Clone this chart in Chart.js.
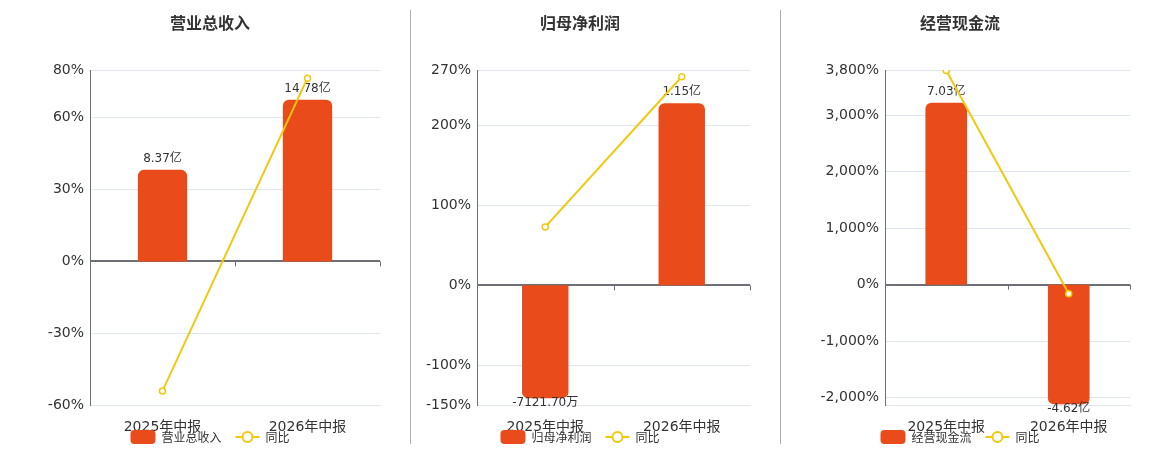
<!DOCTYPE html>
<html>
<head>
<meta charset="utf-8">
<script src="https://cdn.jsdelivr.net/npm/chart.js@4.4.1/dist/chart.umd.min.js"></script>
<style>
body { margin: 0; background: #fff; width: 1160px; height: 450px; overflow: hidden; position: relative;
  font-family: "DejaVu Sans", "Noto Sans CJK SC", sans-serif; }
canvas { position: absolute; top: 0; }
.title { position: absolute; top: 12px; font-size: 16px; line-height: 20px; font-weight: bold; color: #333;
  transform: translateX(-50%); white-space: nowrap; font-family: "Noto Sans CJK SC", sans-serif; }
.sep { position: absolute; top: 10px; height: 434px; width: 1px; background: #b0b0b0; }
.legend { position: absolute; top: 428px; transform: translateX(-50%); display: flex; align-items: center;
  font-size: 12px; color: #333; white-space: nowrap; font-family: "Noto Sans CJK SC", sans-serif; }
.legend .box { width: 25px; height: 14px; border-radius: 4px; background: #E94B1B; margin-right: 6px; }
.legend .ln { position: relative; width: 24px; height: 14px; margin: 0 6px 0 14px; }
.legend .ln:before { content: ""; position: absolute; left: 0; right: 0; top: 6px; height: 2px; background: #F2C80F; }
.legend .ln:after { content: ""; position: absolute; left: 6px; top: 1px; width: 8px; height: 8px; border: 2px solid #F2C80F;
  border-radius: 50%; background: #fff; }
</style>
</head>
<body>
<div class="sep" style="left:410px"></div>
<div class="sep" style="left:780px"></div>
<script>
// data
categories = ['2025年中报', '2026年中报']
titles = ['营业总收入', '归母净利润', '经营现金流']

revenue = [8.37, 14.78]            // 亿
revenueText = ['8.37亿', '14.78亿']
revenueYoy = [-54.1, 76.6]         // %
revenueTicks = [-60, -30, 0, 30, 60, 80]

profit = [-0.712170, 1.15]         // 亿
profitText = ['-7121.70万', '1.15亿']
profitYoy = [73.3, 261.5]
profitTicks = [-150, -100, 0, 100, 200, 270]

cash = [7.03, -4.62]               // 亿
cashText = ['7.03亿', '-4.62亿']
cashYoy = [3790, -160]
cashTicks = [-2000, -1000, 0, 1000, 2000, 3000, 3800]

pctMin = [-60, -150, -2130]
pctMax = [80, 270, 3800]
barMax = [17.5, 1.36, 8.3]

Chart.defaults.font.family = '"DejaVu Sans", "Noto Sans CJK SC", sans-serif'
Chart.defaults.color = '#333'

const barColor = '#E94B1B'
const lineColor = '#F2C80F'

// text over each bar, under the line
const barLabels = {
  id: 'barLabels',
  afterDatasetDraw(chart, args, opts) {
    if (args.index !== 1) return
    const ctx = chart.ctx
    ctx.save()
    ctx.font = '12px "DejaVu Sans", "Noto Sans CJK SC", sans-serif'
    ctx.fillStyle = '#333'
    ctx.textAlign = 'center'
    args.meta.data.forEach((bar, i) => {
      const v = chart.data.datasets[1].data[i]
      if (v >= 0) {
        ctx.textBaseline = 'bottom'
        ctx.fillText(opts.texts[i], bar.x, bar.y - 5)
      } else {
        ctx.textBaseline = 'top'
        ctx.fillText(opts.texts[i], bar.x, bar.y - 1)
      }
    })
    ctx.restore()
  }
}

// small ticks hanging from the zero line
const zeroTicks = {
  id: 'zeroTicks',
  beforeDatasetsDraw(chart) {
    const y = chart.scales.y.getPixelForValue(0)
    const a = chart.chartArea
    const ctx = chart.ctx
    ctx.save()
    ctx.strokeStyle = '#6E7079'
    ctx.lineWidth = 1
    ;[a.left, (a.left + a.right) / 2, a.right].forEach(x => {
      ctx.beginPath()
      ctx.moveTo(Math.round(x) + 0.5, y)
      ctx.lineTo(Math.round(x) + 0.5, y + 5)
      ctx.stroke()
    })
    ctx.restore()
  }
}

function panel(n, left, width, yWidth, center, bars, texts, yoy, ticks) {
  const c = document.createElement('canvas')
  c.width = width
  c.height = 450
  c.style.left = left + 'px'
  document.body.appendChild(c)

  const t = document.createElement('div')
  t.className = 'title'
  t.style.left = center + 'px'
  t.textContent = titles[n]
  document.body.appendChild(t)

  const lg = document.createElement('div')
  lg.className = 'legend'
  lg.style.left = center + 'px'
  lg.innerHTML = '<span class="box"></span><span>' + titles[n] + '</span><span class="ln"></span><span>同比</span>'
  document.body.appendChild(lg)

  new Chart(c.getContext('2d'), {
    data: {
      labels: categories,
      datasets: [{
        type: 'line',
        label: '同比',
        data: yoy,
        yAxisID: 'y',
        borderColor: lineColor,
        borderWidth: 2,
        pointRadius: 3,
        pointBorderWidth: 1.5,
        pointBackgroundColor: '#fff',
        pointBorderColor: lineColor,
        tension: 0
      }, {
        type: 'bar',
        label: titles[n],
        data: bars,
        yAxisID: 'y2',
        backgroundColor: barColor,
        borderRadius: 6,
        barPercentage: 0.34,
        categoryPercentage: 1
      }]
    },
    options: {
      responsive: false,
      animation: false,
      layout: { padding: { top: 70, right: 30, bottom: 15, left: 0 } },
      plugins: {
        legend: { display: false },
        tooltip: { enabled: false },
        barLabels: { texts: texts }
      },
      scales: {
        x: {
          grid: { display: false },
          border: { color: '#E0E6F1' },
          ticks: { font: { size: 14 }, color: '#333', padding: 6 },
          afterFit(s) { s.height = 30 }
        },
        y: {
          position: 'left',
          min: pctMin[n],
          max: pctMax[n],
          afterBuildTicks(s) { s.ticks = ticks.map(v => ({ value: v })) },
          afterFit(s) { s.width = yWidth },
          grid: {
            drawTicks: false,
            color: c => c.tick && c.tick.value === 0 ? '#6E7079' : '#E0E6F1',
            lineWidth: c => c.tick && c.tick.value === 0 ? 2 : 1
          },
          border: { color: '#6E7079', width: 1 },
          ticks: {
            font: { size: 14 },
            color: '#333',
            padding: 6,
            callback: v => v.toLocaleString('en-US') + '%'
          }
        },
        y2: {
          display: false,
          min: -barMax[n] * (-pctMin[n]) / pctMax[n],
          max: barMax[n]
        }
      }
    },
    plugins: [zeroTicks, barLabels]
  })
}

panel(0, 0, 410, 90, 210, revenue, revenueText, revenueYoy, revenueTicks)
panel(1, 410, 370, 67, 580, profit, profitText, profitYoy, profitTicks)
panel(2, 780, 380, 105, 960, cash, cashText, cashYoy, cashTicks)
</script>
</body>
</html>
